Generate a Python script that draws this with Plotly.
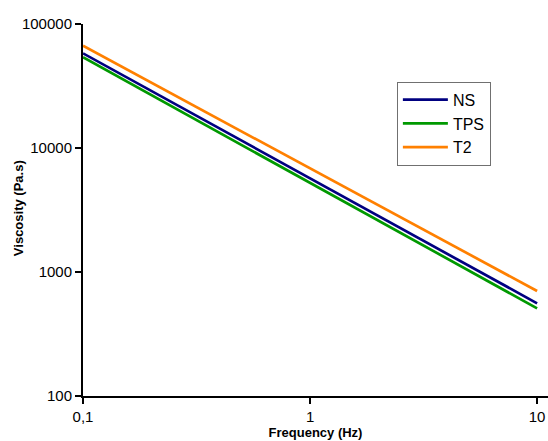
import plotly.graph_objects as go

freq = [0.1, 1, 10]
ns = [58000, 5690, 559]
tps = [53900, 5240, 509]
t2 = [66800, 6850, 703]

series = [("NS", ns, "#000080"), ("TPS", tps, "#009900"), ("T2", t2, "#FF8000")]

fig = go.Figure()
for name, vals, col in series:
    fig.add_trace(go.Scatter(x=freq, y=vals, mode="lines", name=name,
                             line=dict(color=col, width=2.7)))

font_family = "Liberation Sans, Arial, sans-serif"
fig.update_layout(
    width=548, height=441,
    margin=dict(l=83, r=0, t=24, b=45),
    paper_bgcolor="white", plot_bgcolor="white",
    font=dict(family=font_family, size=15, color="black"),
    legend=dict(x=0.675, y=0.845, xanchor="left", yanchor="top",
                bordercolor="#707070", borderwidth=1, bgcolor="white",
                font=dict(size=16, color="black"), tracegroupgap=0,
                itemwidth=45),
    xaxis=dict(type="log", range=[-1, 1.048], showgrid=False, zeroline=False,
               showline=True, linecolor="black", linewidth=2,
               ticks="outside", ticklen=6, tickwidth=2, tickcolor="black",
               tickvals=[0.1, 1, 10], ticktext=["0,1", "1", "10"],
               title=dict(text="<b>Frequency (Hz)</b>", font=dict(size=13), standoff=4)),
    yaxis=dict(type="log", range=[2, 5], showgrid=False, zeroline=False,
               showline=True, linecolor="black", linewidth=2,
               ticks="outside", ticklen=6, tickwidth=2, tickcolor="black",
               tickvals=[100, 1000, 10000, 100000],
               ticktext=["100", "1000", "10000", "100000"]),
    annotations=[dict(text="<b>Viscosity (Pa.s)</b>", xref="paper", yref="paper",
                      x=(18 - 83) / 465, y=0.505, textangle=-90, showarrow=False,
                      font=dict(size=13, color="black"),
                      xanchor="center", yanchor="middle")],
    showlegend=True,
)

fig.write_html("out.html")
